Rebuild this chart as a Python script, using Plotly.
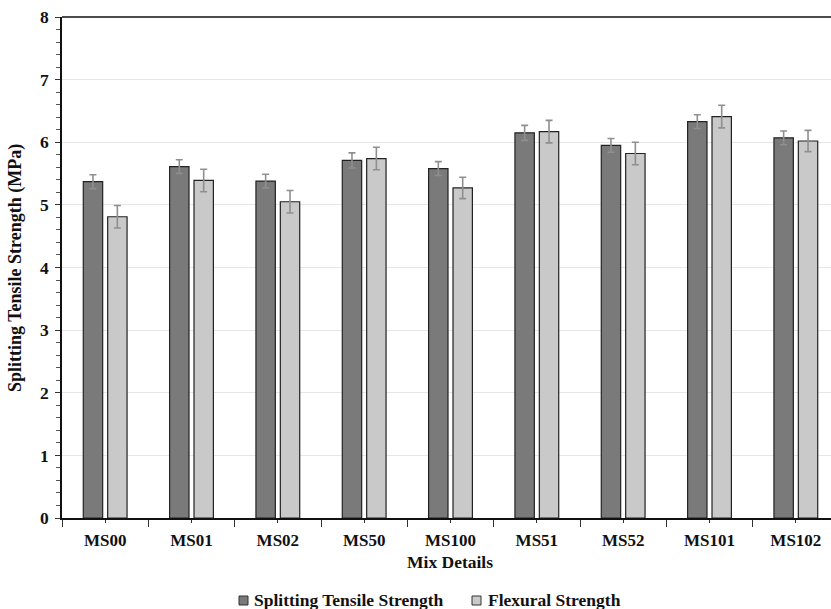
import plotly.graph_objects as go

categories = ["MS00", "MS01", "MS02", "MS50", "MS100", "MS51", "MS52", "MS101", "MS102"]
splitting = [5.37, 5.61, 5.38, 5.71, 5.58, 6.15, 5.95, 6.33, 6.07]
splitting_err = [0.11, 0.11, 0.11, 0.12, 0.11, 0.12, 0.11, 0.11, 0.11]
flexural = [4.81, 5.39, 5.05, 5.74, 5.27, 6.17, 5.82, 6.41, 6.02]
flexural_err = [0.18, 0.18, 0.18, 0.18, 0.17, 0.18, 0.18, 0.18, 0.17]
y_ticks = [0, 1, 2, 3, 4, 5, 6, 7, 8]
series_names = ["Splitting Tensile Strength", "Flexural Strength"]
series_colors = ["#7a7a7a", "#c8c9c8"]

FONT = "Liberation Serif, Times New Roman, serif"
xpos = list(range(len(categories)))

# the original chart's plot area runs slightly past the right edge of the 831px view
PW, PH = 777, 501  # plot area in px

fig = go.Figure()
for vals, errs, name, col in [(splitting, splitting_err, series_names[0], series_colors[0]),
                              (flexural, flexural_err, series_names[1], series_colors[1])]:
    fig.add_trace(go.Bar(
        x=xpos, y=vals, name=name, showlegend=False,
        marker=dict(color=col, line=dict(color="#222222", width=1.2)),
        error_y=dict(type="data", array=errs, visible=True,
                     color="#8f8f8f", thickness=1.6, width=3.5),
    ))

fig.update_layout(
    width=839, height=609,
    margin=dict(l=62, r=0, t=17, b=91, pad=0),
    paper_bgcolor="white", plot_bgcolor="white",
    barmode="group", bargap=0.435, bargroupgap=0.205,
    font=dict(family=FONT, color="#111111"),
)

fig.update_xaxes(
    range=[-0.5, len(categories) - 0.5],
    tickvals=xpos, ticktext=categories,
    ticks="outside", ticklen=3, tickcolor="#333333", tickwidth=1,
    minor=dict(tick0=0.5, dtick=1, ticks="outside",
               ticklen=7, tickcolor="#333333", tickwidth=1, showgrid=False),
    tickfont=dict(family=FONT, size=17, color="#111111", weight="bold"),
    ticklabelstandoff=3,
    showline=True, linecolor="#111111", linewidth=1.5, mirror=False,
    showgrid=False, zeroline=False,
)
fig.update_yaxes(
    range=[0, 8], tickvals=y_ticks,
    ticks="outside", ticklen=5, tickcolor="#333333", tickwidth=1,
    minor=dict(dtick=0.2, ticks="outside", ticklen=4, tickcolor="#555555", tickwidth=1, showgrid=False),
    tickfont=dict(family=FONT, size=17.5, color="#111111", weight="bold"),
    ticklabelstandoff=3,
    showline=True, linecolor="#111111", linewidth=1.5, mirror=False,
    showgrid=True, gridcolor="#e6e6e6", gridwidth=1.2, zeroline=False,
)

# top border of the plot area
fig.add_shape(type="line", xref="paper", yref="paper", x0=0, x1=1, y0=1, y1=1,
              line=dict(color="#111111", width=1.5))

fig.add_annotation(text="<b>Mix Details</b>", xref="paper", yref="paper",
                   x=(450 - 62) / PW, y=(518 - 562) / PH, xanchor="center", yanchor="middle",
                   showarrow=False, font=dict(family=FONT, size=17.5, color="#111111"))
fig.add_annotation(text="<b>Splitting Tensile Strength (MPa)</b>", xref="paper", yref="paper",
                   x=(15 - 62) / PW, y=(518 - 268) / PH, xanchor="center", yanchor="middle",
                   textangle=-90, showarrow=False,
                   font=dict(family=FONT, size=18, color="#111111"))

# legend (drawn manually to match the compact swatch spacing)
legend_items = [(239, 252), (472, 486)]
for (sx, tx), name, col in zip(legend_items, series_names, series_colors):
    fig.add_shape(type="rect", xref="paper", yref="paper",
                  x0=(sx - 62) / PW, x1=(sx + 9 - 62) / PW,
                  y0=(518 - 596) / PH, y1=(518 - 605) / PH,
                  fillcolor=col, line=dict(color="#333333", width=1))
    fig.add_annotation(text="<b>" + name + "</b>", xref="paper", yref="paper",
                       x=(tx - 62) / PW, y=(518 - 600) / PH, xanchor="left", yanchor="middle",
                       showarrow=False, font=dict(family=FONT, size=17.5, color="#111111"))

fig.write_html("out.html", config={"displayModeBar": False},
               post_script="document.body.style.margin='0';document.body.style.overflow='hidden';")
